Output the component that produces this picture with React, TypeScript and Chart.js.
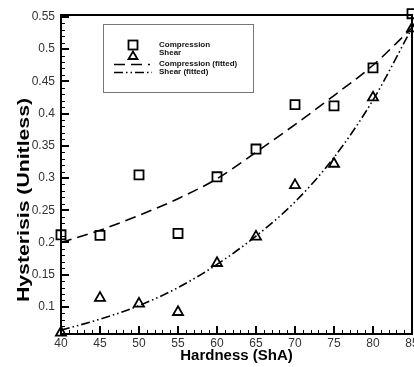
import { useEffect, useRef } from 'react';
import { Chart, registerables } from 'chart.js';

Chart.register(...registerables);

// Shore A hardness of the samples
const hardness = [40, 45, 50, 55, 60, 65, 70, 75, 80, 85];
// Measured hysteresis
const compression = [0.212, 0.211, 0.305, 0.214, 0.302, 0.345, 0.414, 0.412, 0.471, 0.555];
const shear = [0.06, 0.114, 0.105, 0.092, 0.168, 0.209, 0.289, 0.322, 0.425, 0.532];
// Fitted curves
const compressionFitted = [0.2, 0.219, 0.242, 0.268, 0.299, 0.34, 0.383, 0.428, 0.475, 0.533];
const shearFitted = [0.064, 0.081, 0.102, 0.13, 0.166, 0.21, 0.263, 0.332, 0.421, 0.533];

const xTicks = [40, 45, 50, 55, 60, 65, 70, 75, 80, 85];
const yTicks = [0.1, 0.15, 0.2, 0.25, 0.3, 0.35, 0.4, 0.45, 0.5, 0.55];
const yTickLabels = ['0.1', '0.15', '0.2', '0.25', '0.3', '0.35', '0.4', '0.45', '0.5', '0.55'];

const seriesLabels = ['Compression', 'Shear', 'Compression (fitted)', 'Shear (fitted)'];
const xTitle = 'Hardness (ShA)';
const yTitle = 'Hysterisis (Unitless)';

const FONT = '"Liberation Sans", Arial, sans-serif';
const DASH_LONG = [11, 6];
const DASH_DOT_DOT = [9, 3, 1.5, 3, 1.5, 3];

const pts = (ys: number[]) => hardness.map((x, i) => ({ x, y: ys[i] }));

// Frame, inward ticks (major + minor), axis titles and the boxed legend
const decorations = {
  id: 'decorations',
  afterDraw(chart: any) {
    const { ctx, chartArea: a, scales } = chart;
    const xs = scales.x;
    const ys = scales.y;
    ctx.save();
    ctx.strokeStyle = '#000';

    // minor ticks
    ctx.lineWidth = 1;
    ctx.beginPath();
    for (let v = xs.min + 1; v < xs.max; v += 1) {
      const px = Math.round(xs.getPixelForValue(v)) + 0.5;
      ctx.moveTo(px, a.bottom);
      ctx.lineTo(px, a.bottom - 4);
    }
    for (let k = 6; k <= 55; k++) {
      const v = k / 100;
      if (v < ys.min || v > ys.max) continue;
      const py = Math.round(ys.getPixelForValue(v)) + 0.5;
      ctx.moveTo(a.left, py);
      ctx.lineTo(a.left + 4, py);
    }
    ctx.stroke();

    // major ticks
    ctx.lineWidth = 2;
    ctx.beginPath();
    xs.ticks.forEach((t: any) => {
      const px = Math.round(xs.getPixelForValue(t.value));
      ctx.moveTo(px, a.bottom);
      ctx.lineTo(px, a.bottom - 8);
    });
    ys.ticks.forEach((t: any) => {
      const py = Math.round(ys.getPixelForValue(t.value));
      ctx.moveTo(a.left, py);
      ctx.lineTo(a.left + 8, py);
    });
    ctx.stroke();

    // frame
    ctx.lineWidth = 2;
    ctx.strokeRect(a.left, a.top, a.right - a.left, a.bottom - a.top);

    // axis titles
    ctx.fillStyle = '#000';
    ctx.font = `bold 15px ${FONT}`;
    ctx.textAlign = 'center';
    ctx.textBaseline = 'alphabetic';
    ctx.fillText(xTitle, (a.left + a.right) / 2, 360);

    ctx.save();
    ctx.font = `bold 16px ${FONT}`;
    const w = ctx.measureText(yTitle).width;
    ctx.translate(29, 200);
    ctx.rotate(-Math.PI / 2);
    ctx.scale(204 / w, 1);
    ctx.fillText(yTitle, 0, 0);
    ctx.restore();

    // legend box
    const bx = 103, by = 24, bw = 150, bh = 68;
    ctx.fillStyle = '#fff';
    ctx.fillRect(bx, by, bw, bh);
    ctx.lineWidth = 1;
    ctx.strokeStyle = '#777';
    ctx.strokeRect(bx + 0.5, by + 0.5, bw, bh);

    const ds = chart.data.datasets;
    ctx.strokeStyle = '#000';
    // square
    ctx.lineWidth = 1.8;
    ctx.strokeRect(128.5, 40.5, 9, 9);
    // triangle
    ctx.beginPath();
    ctx.moveTo(133, 51.5);
    ctx.lineTo(137.5, 59);
    ctx.lineTo(128.5, 59);
    ctx.closePath();
    ctx.stroke();
    // line samples
    ctx.lineWidth = 1.6;
    ctx.setLineDash(ds[2].borderDash);
    ctx.beginPath();
    ctx.moveTo(114, 64.5);
    ctx.lineTo(150, 64.5);
    ctx.stroke();
    ctx.setLineDash(ds[3].borderDash);
    ctx.beginPath();
    ctx.moveTo(114, 72.5);
    ctx.lineTo(152, 72.5);
    ctx.stroke();
    ctx.setLineDash([]);

    ctx.fillStyle = '#111';
    ctx.font = `bold 8px ${FONT}`;
    ctx.textAlign = 'left';
    ctx.textBaseline = 'middle';
    const rowsY = [45, 53, 64, 72];
    ds.forEach((d: any, i: number) => ctx.fillText(d.label, 159, rowsY[i]));

    ctx.restore();
  },
};

export default function App() {
  const ref = useRef<HTMLCanvasElement>(null);

  useEffect(() => {
    if (!ref.current) return;
    const chart = new Chart(ref.current, {
      type: 'line',
      data: {
        datasets: [
          {
            label: seriesLabels[0],
            data: pts(compression),
            showLine: false,
            pointStyle: 'rect',
            pointRadius: 6.4,
            pointBorderWidth: 1.8,
            borderColor: '#000',
            backgroundColor: 'rgba(0,0,0,0)',
            clip: false,
          },
          {
            label: seriesLabels[1],
            data: pts(shear),
            showLine: false,
            pointStyle: 'triangle',
            pointRadius: 5.8,
            pointBorderWidth: 1.8,
            borderColor: '#000',
            backgroundColor: 'rgba(0,0,0,0)',
            clip: false,
          },
          {
            label: seriesLabels[2],
            data: pts(compressionFitted),
            borderColor: '#000',
            borderWidth: 1.6,
            borderDash: DASH_LONG,
            pointRadius: 0,
            cubicInterpolationMode: 'monotone',
            fill: false,
          },
          {
            label: seriesLabels[3],
            data: pts(shearFitted),
            borderColor: '#000',
            borderWidth: 1.6,
            borderDash: DASH_DOT_DOT,
            pointRadius: 0,
            cubicInterpolationMode: 'monotone',
            fill: false,
          },
        ],
      },
      options: {
        animation: false,
        responsive: false,
        events: [],
        layout: { autoPadding: false, padding: { top: 15, right: 2, left: 0, bottom: 0 } },
        plugins: { legend: { display: false }, tooltip: { enabled: false } },
        scales: {
          x: {
            type: 'linear',
            min: 40,
            max: 85,
            grid: { display: false, drawTicks: false, tickLength: 0 },
            border: { display: false },
            afterBuildTicks: (s: any) => {
              s.ticks = xTicks.map((v) => ({ value: v }));
            },
            afterFit: (s: any) => {
              s.height = 33;
              s.paddingLeft = 0;
              s.paddingRight = 0;
            },
            ticks: {
              padding: 2,
              color: '#333',
              font: { family: FONT, size: 12 },
              maxRotation: 0,
              autoSkip: false,
              callback: (v: any) => String(v),
            },
          },
          y: {
            type: 'linear',
            min: 0.058,
            max: 0.553,
            grid: { display: false, drawTicks: false, tickLength: 0 },
            border: { display: false },
            afterBuildTicks: (s: any) => {
              s.ticks = yTicks.map((v) => ({ value: v }));
            },
            afterFit: (s: any) => {
              s.width = 61;
              s.paddingTop = 0;
              s.paddingBottom = 0;
            },
            ticks: {
              padding: 6,
              color: '#333',
              font: { family: FONT, size: 12 },
              autoSkip: false,
              callback: (v: any) => {
                const i = yTicks.findIndex((t) => Math.abs(t - v) < 1e-9);
                return i >= 0 ? yTickLabels[i] : '';
              },
            },
          },
        },
      },
      plugins: [decorations],
    });
    return () => chart.destroy();
  }, []);

  return (
    <div style={{ position: 'absolute', left: 0, top: 0, width: 414, height: 367, background: '#fff' }}>
      <canvas ref={ref} width={414} height={367} />
    </div>
  );
}
